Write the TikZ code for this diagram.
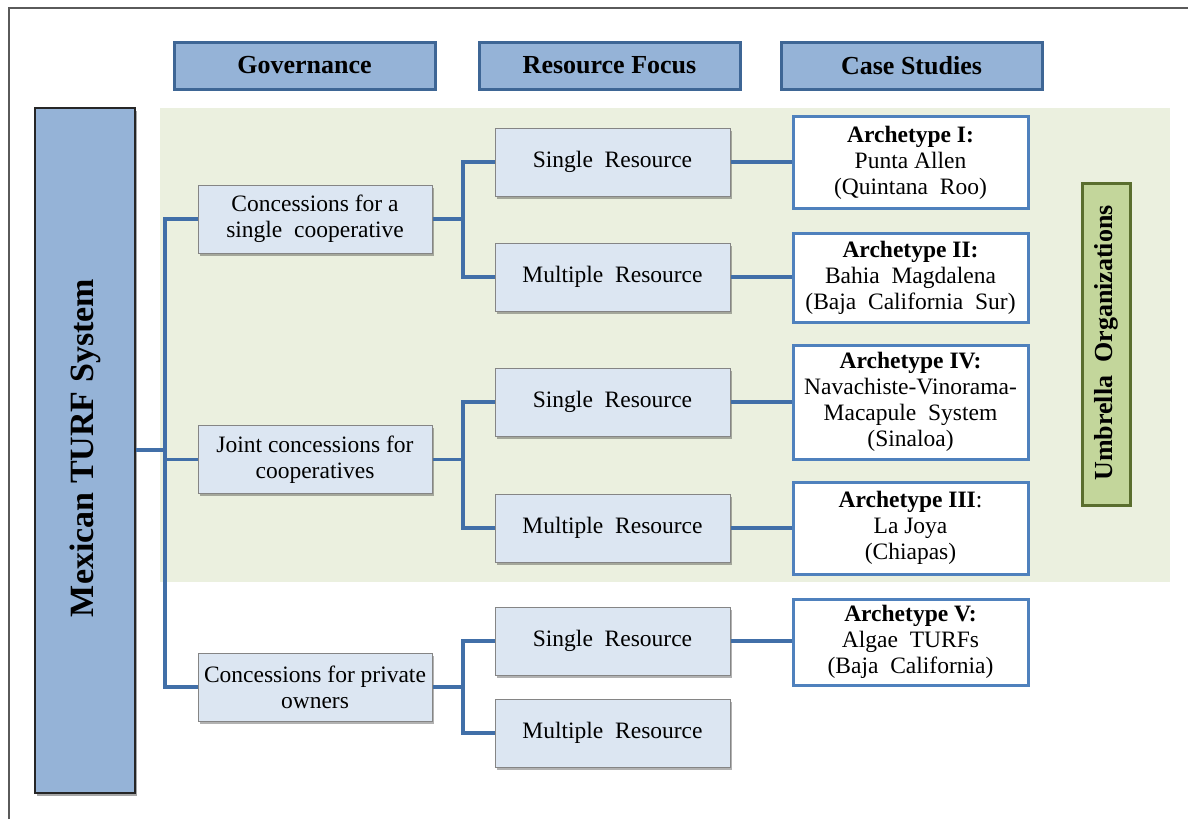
\documentclass[tikz,border=0pt]{standalone}
\usepackage{fontspec}
\setmainfont{Liberation Serif}
\usetikzlibrary{shadows}
\definecolor{hdrFill}{HTML}{95B3D7}
\definecolor{hdrLine}{HTML}{3E6695}
\definecolor{lightFill}{HTML}{DCE6F2}
\definecolor{boxLine}{HTML}{858585}
\definecolor{caseLine}{HTML}{4F81BD}
\definecolor{bgGreen}{HTML}{EBF0DF}
\definecolor{umbFill}{HTML}{C3D69B}
\definecolor{umbLine}{HTML}{5A6E2E}
\definecolor{connCol}{HTML}{416FA8}
\definecolor{frameCol}{HTML}{5A5A5A}
\tikzset{
  bodyfont/.style={font=\fontsize{23.5}{26}\selectfont},
  header/.style={draw=hdrLine, line width=3pt, fill=hdrFill, inner sep=0pt,
    minimum width=261pt, minimum height=47pt, font=\fontsize{26}{28}\selectfont\bfseries},
  govbox/.style={draw=boxLine, line width=1pt, fill=lightFill, inner sep=0pt,
    minimum width=234pt, minimum height=68pt, align=center, bodyfont,
    drop shadow={shadow xshift=2pt, shadow yshift=-2.5pt, fill=black, opacity=.3}},
  resbox/.style={govbox, minimum width=235pt},
  casebox/.style={draw=caseLine, line width=3pt, fill=white, inner sep=0pt,
    minimum width=235pt, align=center, bodyfont},
  conn/.style={draw=connCol, line width=3.5pt},
}
\begin{document}
\begin{tikzpicture}[x=1pt, y=-1pt]
\useasboundingbox (0,0) rectangle (1188,819);
\fill[white] (0,0) rectangle (1188,819);
% frame
\draw[frameCol, line width=2pt] (9,819) -- (9,8) -- (1188,8);
% background band
\fill[bgGreen] (160,108) rectangle (1170,582);

% headers
\node[header] (hgov) at (304.5,65.5) {Governance};
\node[header] (hres) at (609.5,65.5) {Resource Focus};
\node[header] (hcase) at (911.5,65.5) {Case Studies};

% left system box
\node[draw=black!85, line width=1.5pt, fill=hdrFill, inner sep=0pt,
  minimum width=100pt, minimum height=685pt,
  drop shadow={shadow xshift=2pt, shadow yshift=-2.5pt, fill=black, opacity=.35}]
  (turf) at (85,450.5) {};
\node[rotate=90, font=\fontsize{34}{36}\selectfont\bfseries] (turftxt) at (85,448) {Mexican TURF System};

% governance boxes
\node[govbox] (g1) at (315,219) {Concessions for a\\single\ \ cooperative};
\node[govbox] (g2) at (315,459.5) {Joint concessions for\\cooperatives};
\node[govbox] (g3) at (315,687) {Concessions for private\\owners};

% resource boxes
\node[resbox] (r1) at (612.5,162) {Single\ \ Resource};
\node[resbox] (r2) at (612.5,277) {Multiple\ \ Resource};
\node[resbox] (r3) at (612.5,402) {Single\ \ Resource};
\node[resbox] (r4) at (612.5,528) {Multiple\ \ Resource};
\node[resbox] (r5) at (612.5,641) {Single\ \ Resource};
\node[resbox] (r6) at (612.5,733) {Multiple\ \ Resource};

% case boxes
\node[casebox, minimum height=92pt] (c1) at (910.5,162.5) {\textbf{Archetype I:}\\Punta Allen\\(Quintana\ \ Roo)};
\node[casebox, minimum height=89pt] (c2) at (910.5,277.5) {\textbf{Archetype II:}\\Bahia\ \ Magdalena\\(Baja\ \ California\ \ Sur)};
\node[casebox, minimum height=114pt] (c4) at (910.5,402) {\textbf{Archetype IV:}\\Navachiste-Vinorama-\\Macapule\ \ System\\(Sinaloa)};
\node[casebox, minimum height=92pt] (c3) at (910.5,528) {\textbf{Archetype III}:\\La Joya\\(Chiapas)};
\node[casebox, minimum height=86pt] (c5) at (910.5,642) {\textbf{Archetype V:}\\Algae\ \ TURFs\\(Baja\ \ California)};

% umbrella organizations
\node[draw=umbLine, line width=3pt, fill=umbFill, inner sep=0pt,
  minimum width=48pt, minimum height=322pt] (umb) at (1106,344) {};
\node[rotate=90, font=\fontsize{26}{28}\selectfont\bfseries] (umbtxt) at (1106,343) {Umbrella\ \ Organizations};

% connectors: system -> governance
\coordinate (bus) at (165,450);
\draw[conn] (turf.east |- bus) -- (bus);
\draw[conn] (bus) |- (g1.west);
\draw[conn] (bus) |- (g2.west);
\draw[conn] (bus) |- (g3.west);

% governance -> resource
\coordinate (b1) at (463,219);
\coordinate (b2) at (463,459.5);
\coordinate (b3) at (463,687);
\draw[conn] (g1.east) -- (b1);
\draw[conn] (b1) |- (r1.west);
\draw[conn] (b1) |- (r2.west);
\draw[conn] (g2.east) -- (b2);
\draw[conn] (b2) |- (r3.west);
\draw[conn] (b2) |- (r4.west);
\draw[conn] (g3.east) -- (b3);
\draw[conn] (b3) |- (r5.west);
\draw[conn] (b3) |- (r6.west);

% resource -> case
\draw[conn] (r1.east) -- (r1.east -| c1.west);
\draw[conn] (r2.east) -- (r2.east -| c2.west);
\draw[conn] (r3.east) -- (r3.east -| c4.west);
\draw[conn] (r4.east) -- (r4.east -| c3.west);
\draw[conn] (r5.east) -- (r5.east -| c5.west);
\end{tikzpicture}
\end{document}
